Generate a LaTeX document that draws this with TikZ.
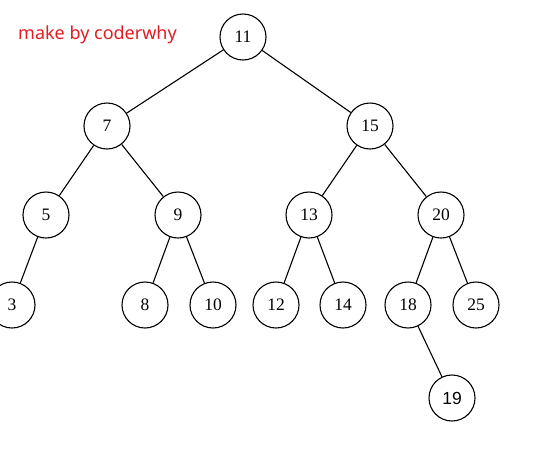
\documentclass[tikz,border=0pt]{standalone}
\usepackage{fontspec}
\setmainfont{Liberation Serif}
\newfontfamily\creditfont{Noto Sans}
\newfontfamily\plainfont{Liberation Sans}
\usetikzlibrary{positioning}
\definecolor{creditred}{RGB}{225,30,35}

\begin{document}
\begin{tikzpicture}[x=1pt,y=-1pt,
    treenode/.style={circle,draw,line width=1.1pt,minimum size=46pt,inner sep=0pt,
        font=\fontsize{17.5}{17.5}\selectfont},
    treeedge/.style={line width=1.1pt}]
    \useasboundingbox[fill=white] (0,0) rectangle (535,453); % page size
    \node[anchor=west,text=creditred,inner sep=0pt,font=\creditfont\fontsize{18}{18}\selectfont] (credit) at (18,35) {make by coderwhy};
    % the tree, level by level
    \node[treenode] (n11) at (243,37) {11};
    \node[treenode] (n7) at (107,126) {7};
    \node[treenode] (n15) at (370,126) {15};
    \node[treenode] (n5) at (46,215) {5};
    \node[treenode] (n9) at (178,215) {9};
    \node[treenode] (n13) at (309,215) {13};
    \node[treenode] (n20) at (441,215) {20};
    \node[treenode] (n3) at (12,305) {3};
    \node[treenode] (n8) at (145,305) {8};
    \node[treenode] (n10) at (213,305) {10};
    \node[treenode] (n12) at (276,305) {12};
    \node[treenode] (n14) at (343,305) {14};
    \node[treenode] (n18) at (408,305) {18};
    \node[treenode] (n25) at (476,305) {25};
    \node[treenode,font=\plainfont\fontsize{17.5}{17.5}\selectfont] (n19) at (452,398) {19};
    \foreach \a/\b in {n11/n7,n11/n15,n7/n5,n7/n9,n15/n13,n15/n20,n5/n3,n9/n8,n9/n10,n13/n12,n13/n14,n20/n18,n20/n25,n18/n19} % edges
    \draw[treeedge] (\a) -- (\b);
\end{tikzpicture}
\end{document}
